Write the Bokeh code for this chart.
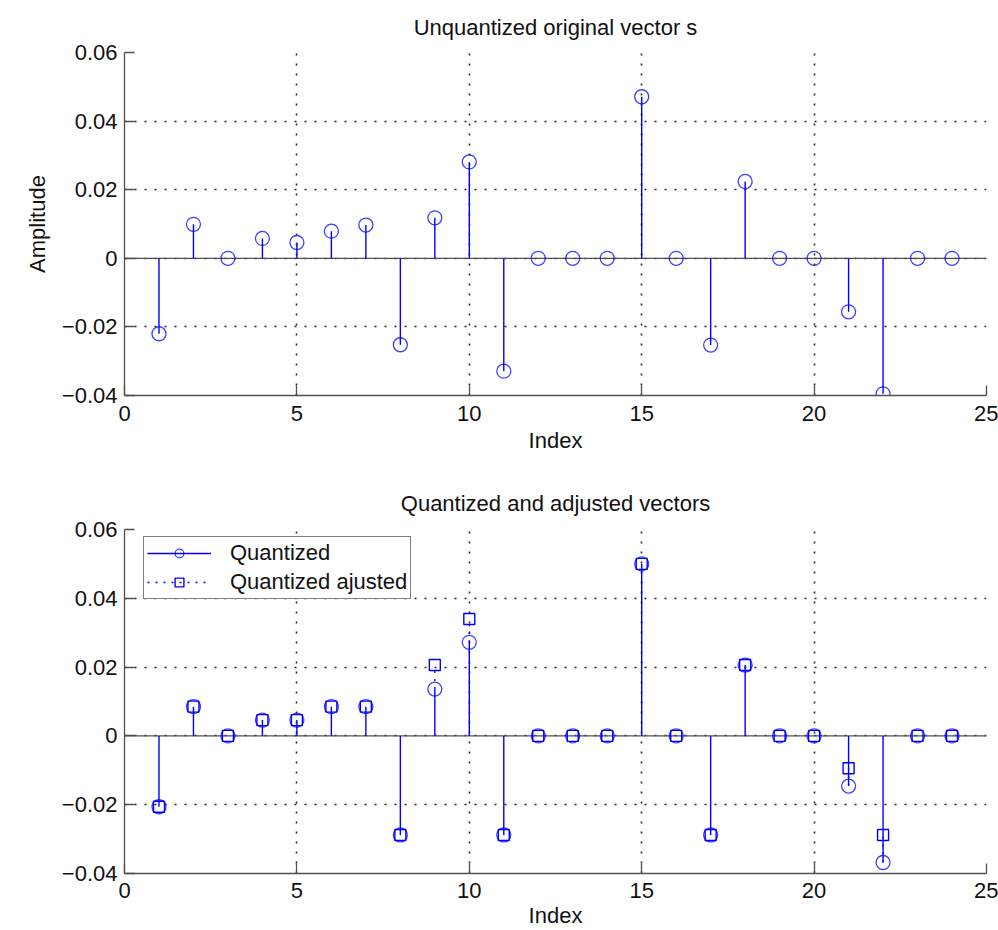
from bokeh.plotting import figure
from bokeh.layouts import column
from bokeh.models import FixedTicker, CustomJSTickFormatter, Span, Legend, LegendItem, Range1d
from bokeh.embed import file_html
from bokeh.resources import INLINE

index = list(range(1, 25))
original = [-0.0220, 0.0099, 0.0, 0.0058, 0.0046, 0.0079, 0.0097, -0.0252, 0.0118, 0.0281,
            -0.0329, 0.0, 0.0, 0.0, 0.0471, 0.0, -0.0253, 0.0224, 0.0, 0.0,
            -0.0156, -0.0395, 0.0, 0.0]
quantized = [-0.0206, 0.0085, 0.0, 0.0046, 0.0046, 0.0085, 0.0085, -0.0288, 0.0136, 0.0272,
             -0.0288, 0.0, 0.0, 0.0, 0.0500, 0.0, -0.0288, 0.0206, 0.0, 0.0,
             -0.0146, -0.0368, 0.0, 0.0]
adjusted = [-0.0206, 0.0085, 0.0, 0.0046, 0.0046, 0.0085, 0.0085, -0.0288, 0.0206, 0.0340,
            -0.0288, 0.0, 0.0, 0.0, 0.0500, 0.0, -0.0288, 0.0206, 0.0, 0.0,
            -0.0094, -0.0288, 0.0, 0.0]
x_ticks = [0, 5, 10, 15, 20, 25]
y_ticks = [-0.04, -0.02, 0.0, 0.02, 0.04, 0.06]
zeros = [0.0] * len(index)

FONT = "Liberation Sans"
BLUE = "#0000ff"
AXIS = "#505050"


def make_fig(title, height, top, bottom, title_standoff, tick_standoff, label_standoff,
             ylabel=None):
    p = figure(width=998, height=height, output_backend="svg", toolbar_location=None,
               x_range=Range1d(0, 25), y_range=Range1d(-0.04, 0.06),
               min_border_left=124, min_border_right=12,
               min_border_top=top, min_border_bottom=bottom)
    p.title.text = title
    p.title.align = "center"
    p.title.text_font = FONT
    p.title.text_font_size = "22px"
    p.title.text_font_style = "normal"
    p.title.text_color = "#111111"
    p.title.standoff = title_standoff
    p.outline_line_color = None
    p.background_fill_color = "white"
    p.border_fill_color = "white"

    for ax in (p.xaxis[0], p.yaxis[0]):
        ax.axis_line_color = AXIS
        ax.axis_line_width = 1.3
        ax.major_tick_line_color = AXIS
        ax.major_tick_line_width = 1.3
        ax.major_tick_in = 10
        ax.major_tick_out = 0
        ax.minor_tick_line_color = None
        ax.major_label_text_font = FONT
        ax.major_label_text_font_size = "22px"
        ax.major_label_text_color = "#111111"
        ax.axis_label_text_font = FONT
        ax.axis_label_text_font_size = "22px"
        ax.axis_label_text_font_style = "normal"
        ax.axis_label_text_color = "#111111"

    p.xaxis.ticker = FixedTicker(ticks=x_ticks)
    p.yaxis.ticker = FixedTicker(ticks=y_ticks)
    p.yaxis.formatter = CustomJSTickFormatter(code="""
        if (Math.abs(tick) < 1e-9) { return "0"; }
        const s = Math.abs(tick).toFixed(2);
        return (tick < 0 ? "\u2212" : "") + s;
    """)
    p.xaxis.axis_label = "Index"
    p.xaxis.major_label_standoff = tick_standoff
    p.xaxis.axis_label_standoff = label_standoff
    p.yaxis.major_label_standoff = 7
    if ylabel:
        p.yaxis.axis_label = ylabel
        p.yaxis.axis_label_standoff = 9

    for g in (p.xgrid[0], p.ygrid[0]):
        g.grid_line_color = "#111111"
        g.grid_line_dash = "2 8"
        g.grid_line_width = 1.6
        g.grid_line_alpha = 0.9

    base = Span(location=0, dimension="width", line_color=AXIS, line_width=1.3,
                level="underlay")
    p.add_layout(base)
    return p


top = make_fig("Unquantized original vector s", 466, 51, 71, 25, 10, 4, ylabel="Amplitude")
top.segment(x0=index, y0=zeros, x1=index, y1=original, line_color=BLUE, line_width=1.4)
top.scatter(index, original, marker="circle", size=14, fill_color=None,
            line_color=BLUE, line_width=1.3, line_alpha=0.75)

bot = make_fig("Quantized and adjusted vectors", 464, 63, 57, 28, 9, 2)
# the dotted "adjusted" stems coincide with the solid ones up to the quantized
# value; only the part that sticks out beyond the solid stem is visible
seg_adj = bot.segment(x0=index, y0=quantized, x1=index, y1=adjusted, line_color=BLUE,
                      line_width=1.4, line_dash="2 6")
seg_q = bot.segment(x0=index, y0=zeros, x1=index, y1=quantized, line_color=BLUE,
                    line_width=1.4)
sc_q = bot.scatter(index, quantized, marker="circle", size=14, fill_color=None,
                   line_color=BLUE, line_width=1.3, line_alpha=0.75)
sc_adj = bot.scatter(index, adjusted, marker="square", size=11, fill_color=None,
                     line_color=BLUE, line_width=1.4)

legend = Legend(items=[LegendItem(label="Quantized", renderers=[seg_q, sc_q]),
                       LegendItem(label="Quantized ajusted", renderers=[seg_adj, sc_adj])],
                location=(19, 274))
legend.label_text_font = FONT
legend.label_text_font_size = "22px"
legend.label_text_color = "#111111"
legend.glyph_width = 64
legend.glyph_height = 22
legend.label_height = 22
legend.label_standoff = 19
legend.padding = 3
legend.spacing = 3
legend.margin = 0
legend.border_line_color = "black"
legend.border_line_width = 1.2
legend.background_fill_color = "white"
legend.background_fill_alpha = 1
bot.add_layout(legend)

layout = column(top, bot, spacing=0)
open("out.html", "w").write(file_html(layout, INLINE))
